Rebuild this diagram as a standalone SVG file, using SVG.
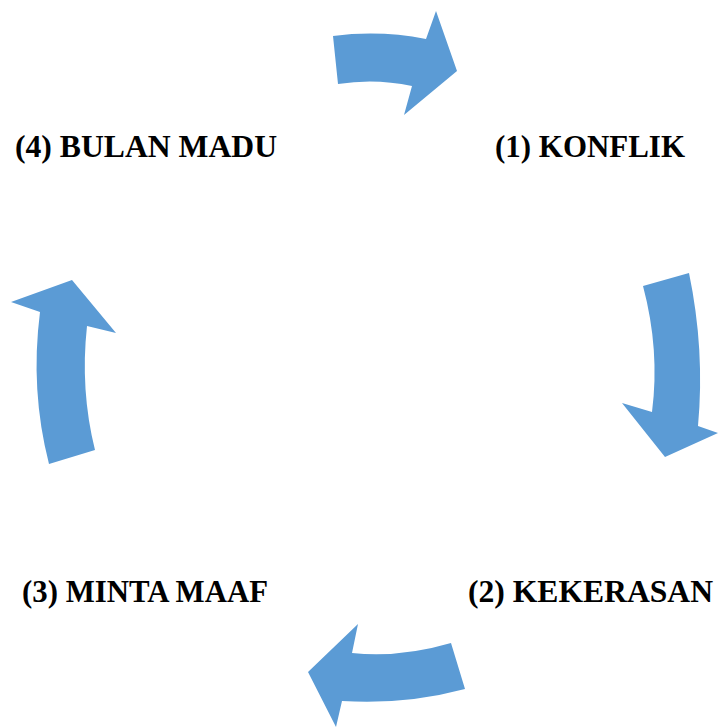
<svg xmlns="http://www.w3.org/2000/svg" width="718" height="727" viewBox="0 0 718 727">
<style>
.arrow{fill:#5B9BD5;stroke:none}
.lbl{font-family:"Liberation Serif","Times New Roman",serif;font-weight:bold;font-size:31px;fill:#000}
</style>
<rect width="718" height="727" fill="#fff"/>
<g id="connectors">
<path class="arrow" d="M333,36 Q380,30 426,39 L436,11 L457,71 L404,115 L412,86 Q375,78 338,84 Z"/>
<path class="arrow" d="M643,286 L689,273 Q705,350 698,426 L718,433 L665,457 L622,403 L652,412 Q660,350 643,286 Z"/>
<path class="arrow" d="M451,643 L465,689 Q405,705 342,701 L336,727 L308,672 L358,624 L352,653 Q400,658 451,643 Z"/>
<path class="arrow" d="M49,464 L95,450 Q80,390 87,326 L116,333 L72,280 L11,302 L40,312 Q30,390 49,464 Z"/>
</g>
<g id="node1"><text class="lbl" x="495" y="157" textLength="190" lengthAdjust="spacingAndGlyphs">(1) KONFLIK</text></g>
<g id="node2"><text class="lbl" x="468" y="602" textLength="245" lengthAdjust="spacingAndGlyphs">(2) KEKERASAN</text></g>
<g id="node3"><text class="lbl" x="22" y="602" textLength="246" lengthAdjust="spacingAndGlyphs">(3) MINTA MAAF</text></g>
<g id="node4"><text class="lbl" x="15" y="157" textLength="262" lengthAdjust="spacingAndGlyphs">(4) BULAN MADU</text></g>
</svg>
